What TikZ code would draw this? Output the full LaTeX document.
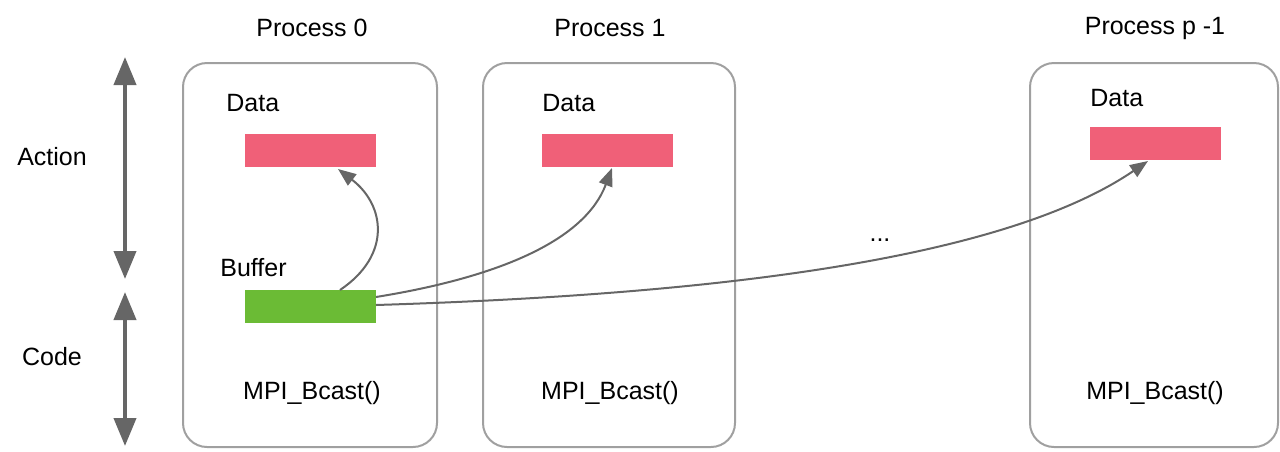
\documentclass[tikz,border=0pt]{standalone}
\usepackage{fontspec}
\setmainfont{Liberation Sans}
\usetikzlibrary{arrows.meta}
\definecolor{boxgray}{HTML}{A0A0A0}
\definecolor{arrgray}{HTML}{666666}
\definecolor{datapink}{HTML}{F06078}
\definecolor{bufgreen}{HTML}{6BBB35}
\begin{document}
\begin{tikzpicture}[x=0.5pt,y=-0.5pt,
  every node/.style={font=\fontsize{12.5}{14}\selectfont, inner sep=0pt},
  procbox/.style={draw=boxgray, line width=1pt, rounded corners=12pt, minimum width=#1, minimum height=192pt},
  databox/.style={fill=datapink, minimum width=65.5pt, minimum height=16.5pt},
  bufbox/.style={fill=bufgreen, minimum width=65.5pt, minimum height=16.5pt},
  lbl/.style={anchor=west},
  flow/.style={draw=arrgray, line width=1pt, -{Triangle[width=7pt,length=9pt]}},
  span/.style={draw=arrgray, line width=2pt, {Triangle[width=11pt,length=14pt]}-{Triangle[width=11pt,length=14pt]}}
]
\useasboundingbox (0,0) rectangle (1280,451);
% process boxes
\node[procbox=127pt] (p0) at (310,255) {};
\node[procbox=126pt] (p1) at (609,255) {};
\node[procbox=124pt] (pp) at (1154,255) {};
% titles
\node (t0) at (312,28) {Process 0};
\node (t1) at (610,28) {Process 1};
\node (tp) at (1155,28) {Process p -1};
% data blocks
\node[lbl] (dl0) at (226,103) {Data};
\node[lbl] (dl1) at (542,103) {Data};
\node[lbl] (dlp) at (1090,98) {Data};
\node[databox] (d0) at (310.5,150.5) {};
\node[databox] (d1) at (607.5,150.5) {};
\node[databox] (dp) at (1155,143.5) {};
% buffer
\node[lbl] (bl) at (220,268) {Buffer};
\node[bufbox] (buf) at (310.5,306.5) {};
% code labels
\node (m0) at (312,393) {MPI\_Bcast()};
\node (m1) at (610,393) {MPI\_Bcast()};
\node (mp) at (1155,393) {MPI\_Bcast()};
% dots
\node (dots) at (880,240) {...};
% left labels and arrows
\node (act) at (52,157) {Action};
\node (code) at (52,357) {Code};
\coordinate (a1) at (125,57);
\coordinate (a2) at (125,279);
\coordinate (c1) at (125,292);
\coordinate (c2) at (125,446);
\draw[span] (a1) -- (a2);
\draw[span] (c1) -- (c2);
% flows
\coordinate (s0) at (340,290);
\coordinate (e0) at (338,169);
\coordinate (s1) at (376,297);
\coordinate (e1) at (612,168);
\coordinate (s2) at (376,305);
\coordinate (e2) at (1148,161);
\draw[flow] (s0) .. controls (392,255) and (385,205) .. (e0);
\draw[flow] (s1) .. controls (500,277) and (585,240) .. (e1);
\draw[flow] (s2) .. controls (700,295) and (1000,262) .. (e2);
\end{tikzpicture}
\end{document}
